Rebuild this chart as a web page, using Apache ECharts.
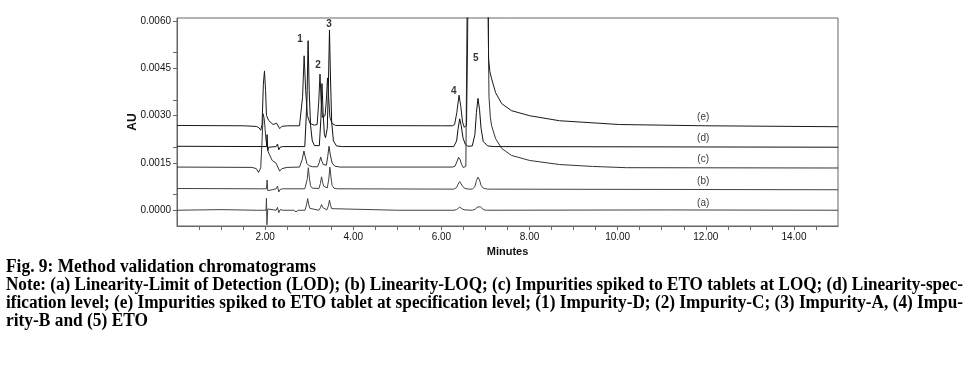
<!DOCTYPE html>
<html>
<head>
<meta charset="utf-8">
<script src="https://cdn.jsdelivr.net/npm/echarts@6/dist/echarts.min.js"></script>
<style>
html,body{margin:0;padding:0;background:#fff;}
#chart{width:978px;height:372px;}
</style>
</head>
<body>
<div id="chart"></div>
<script>
// ---- data: [minutes, AU] ----
const traceA = [[0,0],[1.0,0.00002],[1.8,0],[2.02,0],[2.03,0.00038],[2.04,-0.00046],[2.06,0.00004],[2.1,0],[2.25,0],[2.28,0.00009],[2.31,-0.00008],[2.34,0.00002],[2.4,0],[2.65,0],[2.7,-0.00005],[2.75,0],
  [2.905,0],[2.94,0.00017],[2.965,0.00037],[2.99,0.00018],[3.015,0.00006],[3.055,0],
  [3.22,0],[3.255,0.00008],[3.28,0.00018],[3.305,0.00009],[3.33,0.00004],
  [3.40,0.00001],[3.435,0.00014],[3.46,0.00032],[3.485,0.00016],[3.51,0.00005],[3.55,0],
  [5.0,0],[6.285,0],[6.345,0.00002],[6.38,0.00007],[6.415,0.0001],[6.45,0.00007],[6.485,0.00003],[6.535,0.00001],
  [6.7,0],[6.77,0.00003],[6.81,0.0001],[6.845,0.00015],[6.88,0.00011],[6.915,0.00005],[6.965,0.00001],[7.05,0],[11.1,0.00001],[15,0]];

const traceB = [[0,0.00069],[1.9,0.00068],[2.03,0.00068],[2.045,0.00096],[2.06,0.00062],[2.08,0.00067],[2.25,0.00068],[2.28,0.00077],[2.31,0.00058],[2.34,0.00066],[2.4,0.00068],[2.9,0.00068],
  [2.92,0.00068],[2.955,0.00098],[2.98,0.00135],[3.005,0.00102],[3.03,0.00078],[3.07,0.0007],
  [3.22,0.00069],[3.255,0.00085],[3.28,0.00106],[3.305,0.00088],[3.33,0.00076],
  [3.41,0.00071],[3.445,0.00099],[3.47,0.00137],[3.495,0.00104],[3.52,0.00079],[3.56,0.0007],[3.65,0.00068],
  [6.28,0.00067],[6.345,0.00072],[6.38,0.00083],[6.415,0.00091],[6.45,0.00085],[6.485,0.00075],[6.535,0.00069],[6.62,0.00067],
  [6.70,0.00067],[6.76,0.00075],[6.795,0.00094],[6.83,0.00105],[6.865,0.00096],[6.9,0.00079],[6.95,0.0007],[7.05,0.00067],[15,0.00065]];

const traceC = [[0,0.00137],[1.7,0.00136],[1.8,0.00132],[1.85,0.0012],[1.9,0.00135],[1.93,0.0022],[1.955,0.00306],[1.98,0.0029],[2.02,0.00222],[2.07,0.00185],[2.16,0.00158],[2.25,0.00149],[2.29,0.00155],[2.33,0.00124],[2.38,0.00132],[2.5,0.00136],[2.78,0.00137],
  [2.8,0.00139],[2.84,0.0016],[2.88,0.00188],[2.91,0.0017],[2.95,0.00148],[3.0,0.00141],[3.08,0.00138],
  [3.19,0.00138],[3.23,0.00152],[3.26,0.00169],[3.29,0.00155],[3.32,0.00145],
  [3.39,0.00143],[3.42,0.0017],[3.45,0.00203],[3.48,0.00175],[3.52,0.0015],[3.58,0.0014],[3.7,0.00137],
  [6.25,0.00137],[6.31,0.0014],[6.355,0.00155],[6.39,0.00168],[6.425,0.0016],[6.46,0.00145],[6.5,0.00135],[6.535,0.00132],
  [6.555,0.0014],[6.575,0.005],[6.59,0.008],[6.8,0.0095],[7.05,0.008],[7.06,0.0062],[7.08,0.0036],[7.11,0.00295],[7.14,0.00268],[7.23,0.00227],[7.37,0.00196],[7.59,0.00174],[8.0,0.00158],[8.68,0.00145],[9.43,0.00139],[10.2,0.00135],[15,0.00134]];

const traceD = [[0,0.00203],[2.03,0.00202],[2.045,0.0024],[2.06,0.0019],[2.08,0.002],[2.25,0.00202],[2.28,0.0021],[2.31,0.00192],[2.34,0.002],[2.4,0.00202],[2.9,0.00202],
  [2.915,0.00205],[2.95,0.0035],[2.975,0.00538],[3.0,0.0038],[3.03,0.0027],[3.07,0.0022],[3.12,0.00205],
  [3.23,0.00205],[3.265,0.0029],[3.29,0.00402],[3.315,0.0031],[3.345,0.0024],[3.37,0.0023],
  [3.41,0.0026],[3.435,0.0039],[3.46,0.00572],[3.485,0.0041],[3.51,0.0028],[3.55,0.0022],[3.62,0.00204],[3.75,0.00202],
  [6.28,0.00202],[6.3,0.00203],[6.345,0.0022],[6.38,0.0026],[6.415,0.0029],[6.45,0.00268],[6.49,0.0023],[6.54,0.0021],[6.6,0.00203],
  [6.7,0.00204],[6.76,0.0024],[6.795,0.0031],[6.83,0.00355],[6.865,0.0032],[6.9,0.0026],[6.95,0.00218],[7.05,0.00204],[7.2,0.00202],[15,0.002]];

const traceE = [[0,0.00269],[1.5,0.00268],[1.8,0.00266],[1.86,0.00262],[1.9,0.00254],[1.93,0.00272],[1.96,0.004],[1.985,0.00442],[2.01,0.0038],[2.03,0.00301],[2.08,0.00285],[2.18,0.00272],[2.26,0.00276],[2.3,0.00278],[2.33,0.00259],[2.38,0.00266],[2.5,0.00268],[2.78,0.00268],
  [2.81,0.0027],[2.85,0.0036],[2.885,0.0049],[2.92,0.0038],[2.96,0.003],[3.02,0.00275],[3.12,0.0027],
  [3.18,0.00272],[3.215,0.0034],[3.245,0.00432],[3.27,0.0035],[3.3,0.00295],[3.33,0.0029],
  [3.36,0.003],[3.39,0.0035],[3.415,0.0042],[3.44,0.0036],[3.47,0.00295],[3.52,0.00275],[3.6,0.00269],
  [6.0,0.00268],[6.25,0.00268],[6.3,0.00272],[6.35,0.0031],[6.4,0.00365],[6.44,0.0033],[6.48,0.0028],[6.52,0.00263],[6.57,0.0027],[6.595,0.0055],[6.61,0.0085],
  [6.8,0.0095],[7.06,0.008],[7.07,0.0048],[7.1,0.0044],[7.14,0.00417],[7.23,0.00373],[7.37,0.00338],[7.59,0.00316],[8.0,0.003],[8.68,0.00284],[10.04,0.00272],[12,0.00268],[15,0.00265]];

const traceNames = ['(a)','(b)','(c)','(d)','(e)'];
const traceLabelPos = [[11.94,0.00022],[11.94,0.00092],[11.94,0.00161],[11.94,0.00227],[11.94,0.00294]];
const peakNames = ['1','2','3','4','5'];
const peakLabelPos = [[2.79,0.00543],[3.2,0.00461],[3.45,0.00591],[6.28,0.00379],[6.78,0.00483]];

const xLabelValues = [2,4,6,8,10,12,14];
const xTickValues = [0.5,1,1.5,2,2.5,3,3.5,4,4.5,5,5.5,6,6.5,7,7.5,8,8.5,9,9.5,10,10.5,11,11.5,12,12.5,13,13.5,14,14.5];
const yLabelValues = [0,0.0015,0.003,0.0045,0.006];
const yTickValues = [0,0.0005,0.0015,0.002,0.003,0.0035,0.0045,0.005,0.006];

const captionLines = [
  'Fig. 9: Method validation chromatograms',
  'Note: (a) Linearity-Limit of Detection (LOD); (b) Linearity-LOQ; (c) Impurities spiked to ETO tablets at LOQ; (d) Linearity-spec-',
  'ification level; (e) Impurities spiked to ETO tablet at specification level; (1) Impurity-D; (2) Impurity-C; (3) Impurity-A, (4) Impu-',
  'rity-B and (5) ETO'
];

// ---- chart ----
const captionFont = 'bold 18px "Liberation Serif"';
const captionWidths = [310, 957, 957, 142];
const captionY = [267, 285, 303, 321];
const mctx = document.createElement('canvas').getContext('2d');
mctx.font = captionFont;
const graphics = captionLines.map((t, i) => ({
  type: 'text', x: 6, y: captionY[i],
  scaleX: captionWidths[i] / mctx.measureText(t).width,
  style: { text: t, font: captionFont, fill: '#000', verticalAlign: 'middle', align: 'left' }
}));

const traces = [traceA, traceB, traceC, traceD, traceE];
const lineColors = ['#444', '#444', '#333', '#111', '#1a1a1a'];
const series = traces.map((d, i) => ({
  type: 'line', data: d, showSymbol: false, symbol: 'none', clip: true,
  lineStyle: { color: lineColors[i], width: 1 }, silent: true, z: 2
}));
const annFont = { fontFamily: 'Liberation Sans', color: '#000' };
series.push({
  type: 'scatter', symbolSize: 0, itemStyle: { color: 'rgba(0,0,0,0)' }, silent: true, z: 5,
  data: traceLabelPos.map((p, i) => [p[0], p[1], traceNames[i]]),
  label: { show: true, position: 'inside', formatter: p => p.data[2], fontSize: 10, ...annFont }
});
series.push({
  type: 'scatter', symbolSize: 0, itemStyle: { color: 'rgba(0,0,0,0)' }, silent: true, z: 5,
  data: peakLabelPos.map((p, i) => [p[0], p[1], peakNames[i]]),
  label: { show: true, position: 'inside', formatter: p => p.data[2], fontSize: 10, fontWeight: 'bold', ...annFont }
});

const chart = echarts.init(document.getElementById('chart'), null, { renderer: 'canvas' });
chart.setOption({
  animation: false,
  backgroundColor: '#fff',
  grid: { left: 177, right: 140, top: 18, bottom: 146, show: true, borderColor: '#666', borderWidth: 1 },
  xAxis: {
    type: 'value', min: 0, max: 15, interval: 0.5,
    name: 'Minutes', nameLocation: 'middle', nameGap: 19,
    nameTextStyle: { fontFamily: 'Liberation Sans', fontWeight: 'bold', fontSize: 11, color: '#111' },
    axisLine: { show: true, onZero: false, lineStyle: { color: '#666', width: 1 } },
    axisTick: { show: true, length: 4, customValues: xTickValues, lineStyle: { color: '#666' } },
    axisLabel: { customValues: xLabelValues, formatter: v => v.toFixed(2), fontFamily: 'Liberation Sans', fontSize: 10, color: '#111', margin: 6 },
    splitLine: { show: false }
  },
  yAxis: {
    type: 'value', min: -0.0005, max: 0.0061,
    name: 'AU', nameLocation: 'middle', nameGap: 38, nameRotate: 90, nameMoveOverlap: false,
    nameTextStyle: { fontFamily: 'Liberation Sans', fontWeight: 'bold', fontSize: 12, color: '#111' },
    axisLine: { show: true, onZero: false, lineStyle: { color: '#666', width: 1 } },
    axisTick: { show: true, length: 4, customValues: yTickValues, lineStyle: { color: '#666' } },
    axisLabel: { customValues: yLabelValues, formatter: v => v.toFixed(4), fontFamily: 'Liberation Sans', fontSize: 10, color: '#111', margin: 6 },
    splitLine: { show: false }
  },
  series: series,
  graphic: graphics
});
</script>
</body>
</html>
